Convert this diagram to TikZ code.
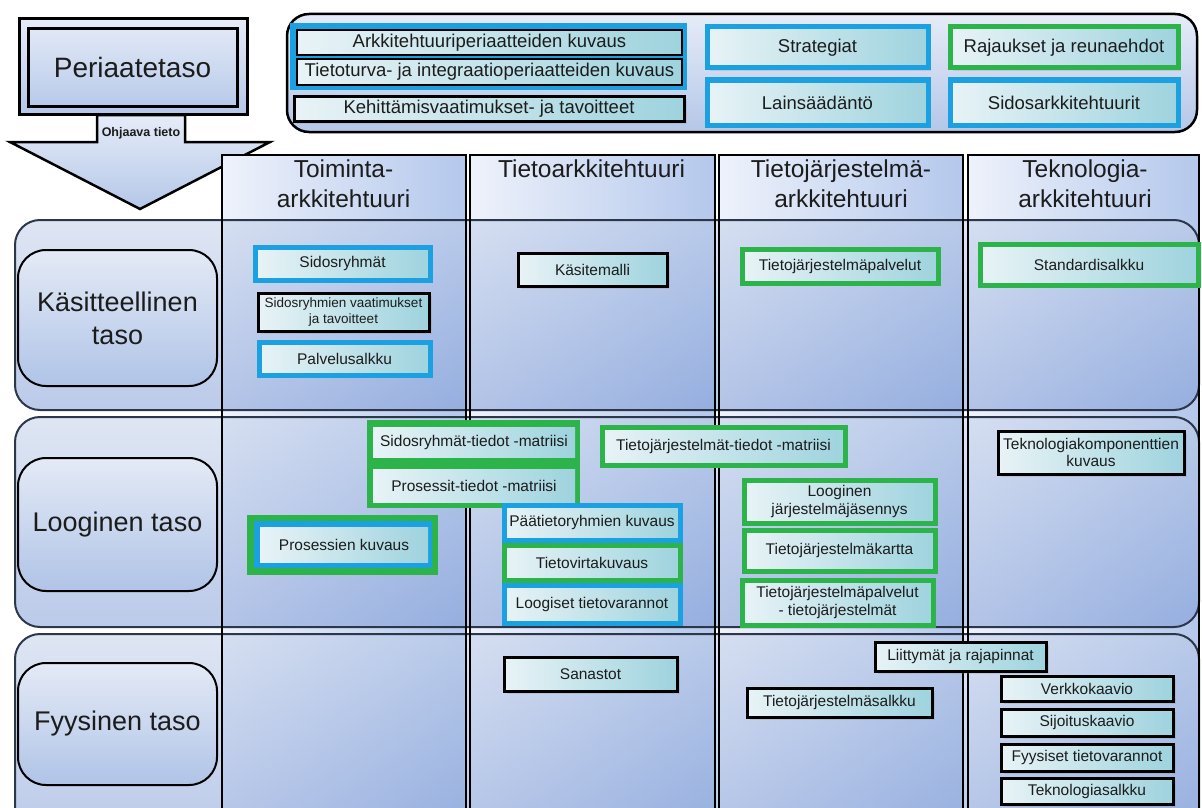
\documentclass[tikz,border=0pt]{standalone}
\usepackage{fontspec}
\setmainfont{Liberation Sans}
\usetikzlibrary{shadows}
\definecolor{blueF}{RGB}{27,161,226}
\definecolor{greenF}{RGB}{44,180,74}
\definecolor{boxL}{RGB}{232,243,246}
\definecolor{boxR}{RGB}{158,211,222}
\definecolor{bandT}{RGB}{190,205,232}
\definecolor{bandB}{RGB}{120,150,212}
\definecolor{colL}{RGB}{238,242,251}
\definecolor{colR}{RGB}{180,200,236}
\definecolor{lblT}{RGB}{228,234,246}
\definecolor{lblB}{RGB}{176,196,231}
\definecolor{panT}{RGB}{230,236,248}
\definecolor{panB}{RGB}{180,199,232}
\definecolor{txt}{RGB}{28,28,28}
\definecolor{bandline}{RGB}{45,55,75}
\newcommand\fsz[2]{\fontsize{#1pt}{#2pt}\selectfont}
\newcommand\bx[7]{\node[#1, minimum width={(#5-#3)*1pt}, minimum height={(#6-#4)*1pt}] (#2) at ({(#3+#5)/2},{(#4+#6)/2}) {#7};}
\begin{document}
\begin{tikzpicture}[x=1pt,y=-1pt,
  base/.style={rectangle, inner sep=0pt, outer sep=0pt, align=center, text=txt},
  cbox0/.style={base, left color=boxL, right color=boxR, font=\fsz{15.5}{17.5}},
  cbox/.style={cbox0, drop shadow={opacity=0.22, shadow xshift=3pt, shadow yshift=-3pt}},
  bfr/.style={cbox, draw=blueF, line width=5pt},
  gfr/.style={cbox, draw=greenF, line width=5pt},
  kfr/.style={cbox, draw=black, line width=3pt},
  kfr0/.style={cbox0, draw=black, line width=2.5pt},
  topf/.style={font=\fsz{18.5}{21}},
  grpB/.style={base, fill=blueF},
  grpG/.style={base, fill=greenF},
  panel/.style={base, rounded corners=22pt, top color=panT, bottom color=panB, draw=black, line width=2.5pt},
  colfill/.style={base, left color=colL, right color=colR},
  colline/.style={draw=black, line width=2.5pt},
  band/.style={base, rounded corners=25pt, top color=bandT, bottom color=bandB, fill opacity=0.5, draw=bandline, draw opacity=1, line width=2pt},
  lbl/.style={base, rounded corners=28pt, top color=lblT, bottom color=lblB, draw=black, line width=2pt, font=\fsz{27}{33}},
  hdr/.style={base, anchor=north, font=\fsz{24.5}{30}},
  peri/.style={base, draw=black, line width=3pt},
  arrowsty/.style={draw=black, line width=2.5pt, line join=miter, top color=panT, bottom color=panB}
]
\useasboundingbox (0,0) rectangle (1202,808);
\clip (0,0) rectangle (1202,808);

% principle level
\draw[arrowsty] (97,115) -- (185,115) -- (185,142) -- (270,142) -- (140,209) -- (10,142) -- (97,142) -- cycle;
\node[font=\bfseries\fsz{12.5}{14}, text=txt] (ohj) at (141,133) {Ohjaava tieto};
\bx{peri, top color=panT, bottom color=panB}{periout}{19}{19}{247}{114}{}
\bx{peri, font=\fsz{28}{32}}{peritxt}{28}{29}{237}{106}{Periaatetaso}

\bx{panel}{toppanel}{287}{14}{1197}{132}{}
\bx{grpB}{g1}{290}{23}{687}{90}{}
\bx{kfr0,topf}{arkp}{297}{30}{682}{55}{Arkkitehtuuriperiaatteiden kuvaus}
\bx{kfr0,topf}{ttp}{297}{59}{682}{85}{Tietoturva- ja integraatioperiaatteiden kuvaus}
\bx{kfr,topf}{keh}{294}{96}{684}{121}{Kehittämisvaatimukset- ja tavoitteet}
\bx{bfr,topf}{strat}{707}{27}{928}{68}{Strategiat}
\bx{bfr,topf}{lain}{707}{80}{928}{125}{Lainsäädäntö}
\bx{gfr,topf}{raj}{950}{27}{1178}{68}{Rajaukset ja reunaehdot}
\bx{bfr,topf}{sidark}{950}{80}{1178}{125}{Sidosarkkitehtuurit}

% columns
\bx{colfill}{c1}{222}{155}{466}{830}{}
\bx{colfill}{c2}{470}{155}{715}{830}{}
\bx{colfill}{c3}{719}{155}{963}{830}{}
\bx{colfill}{c4}{968}{155}{1199}{830}{}

% bands
\bx{band}{b1}{15}{220}{1199}{410}{}
\bx{band}{b2}{15}{417}{1199}{627}{}
\bx{band}{b3}{15}{634}{1199}{835}{}

\draw[colline] (c1.north west) rectangle (c1.south east);
\draw[colline] (c2.north west) rectangle (c2.south east);
\draw[colline] (c3.north west) rectangle (c3.south east);
\draw[colline] (c4.north west) rectangle (c4.south east);

\node[hdr] (h1) at (343.5,160) {Toiminta-\\arkkitehtuuri};
\node[hdr] (h2) at (591.5,160) {Tietoarkkitehtuuri};
\node[hdr] (h3) at (841,160) {Tietojärjestelmä-\\arkkitehtuuri};
\node[hdr] (h4) at (1085,160) {Teknologia-\\arkkitehtuuri};

% level labels
\bx{lbl}{lk}{18}{250}{217}{386}{Käsitteellinen\\taso}
\bx{lbl}{ll}{18}{458}{217}{591}{Looginen taso}
\bx{lbl}{lf}{18}{663}{217}{785}{Fyysinen taso}

% conceptual level
\bx{bfr}{sr}{255}{247}{430}{280}{Sidosryhmät}
\bx{kfr,font=\fsz{13.5}{16}}{srv}{258}{293}{429}{331}{Sidosryhmien vaatimukset\\ja tavoitteet}
\bx{bfr}{pa}{259}{342}{430}{375}{Palvelusalkku}
\bx{kfr}{km}{518}{253}{667}{286}{Käsitemalli}
\bx{gfr}{tjp}{742}{249}{938}{283}{Tietojärjestelmäpalvelut}
\bx{gfr}{std}{980}{244}{1198}{285}{Standardisalkku}

% logical level
\bx{grpG}{g2}{367}{420}{580}{508}{}
\bx{cbox0}{srt}{373}{427}{575}{457}{Sidosryhmät-tiedot -matriisi}
\bx{cbox0}{prt}{373}{469}{575}{502}{Prosessit-tiedot -matriisi}
\bx{gfr}{tjt}{602}{427}{845}{465}{Tietojärjestelmät-tiedot -matriisi}
\bx{grpG}{g3}{247}{515}{438}{575}{}
\bx{grpB}{g4}{254}{521}{432}{568}{}
\bx{cbox0}{pk}{260}{527}{428}{562}{Prosessien kuvaus}
\bx{bfr}{pt}{504}{505}{680}{540}{Päätietoryhmien kuvaus}
\bx{gfr}{tv}{504}{545}{680}{580}{Tietovirtakuvaus}
\bx{bfr}{lt}{504}{585}{680}{623}{Loogiset tietovarannot}
\bx{gfr}{lj}{744}{480}{935}{523}{Looginen\\järjestelmäjäsennys}
\bx{gfr}{tjk}{744}{530}{935}{571}{Tietojärjestelmäkartta}
\bx{gfr}{tjpt}{742}{580}{933}{625}{Tietojärjestelmäpalvelut\\- tietojärjestelmät}
\bx{kfr}{tk}{998}{431}{1184}{474}{Teknologiakomponenttien\\kuvaus}

% physical level
\bx{kfr}{san}{504}{657}{677}{691}{Sanastot}
\bx{kfr}{tjs}{747}{688}{932}{717}{Tietojärjestelmäsalkku}
\bx{kfr}{lr}{875}{642}{1046}{671}{Liittymät ja rajapinnat}
\bx{kfr}{vk}{1001}{676}{1173}{701}{Verkkokaavio}
\bx{kfr}{sk}{1001}{709}{1173}{736}{Sijoituskaavio}
\bx{kfr}{ft}{1001}{744}{1173}{771}{Fyysiset tietovarannot}
\bx{kfr}{tks}{1001}{778}{1173}{804}{Teknologiasalkku}
\end{tikzpicture}
\end{document}
